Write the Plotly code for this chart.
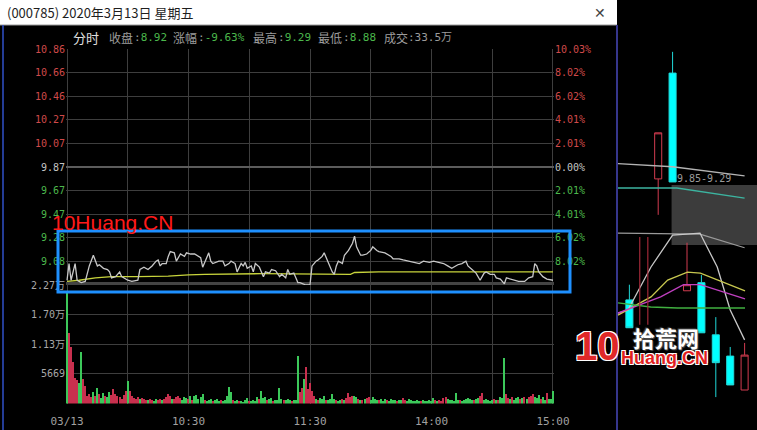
import plotly.graph_objects as go

W, H = 757, 430
def px(x): return x / W
def py(y): return 1 - y / H

# ---------------- data ----------------
prev_close = 9.87
pct_ticks = [10.03, 8.02, 6.02, 4.01, 2.01, 0.00, -2.01, -4.01, -6.02, -8.02]
price_labels = ["10.86", "10.66", "10.46", "10.27", "10.07", "9.87", "9.67", "9.47", "9.28", "9.08"]
pct_labels = ["10.03%", "8.02%", "6.02%", "4.01%", "2.01%", "0.00%", "2.01%", "4.01%", "6.02%", "8.02%"]
vol_tick_vals = [5669, 11338, 17007, 22676]
vol_tick_labels = ["5669", "1.13万", "1.70万", "2.27万"]
time_tick_vals = [0, 30, 60, 90, 120, 150, 180, 210, 240]
time_tick_labels = ["03/13", "", "10:30", "", "11:30", "", "14:00", "", "15:00"]

price_min = [0, 1, 2, 3, 4, 5, 7, 9, 11, 13, 14, 15, 16, 18, 20, 21, 22, 24, 26, 27, 30, 32, 35, 36, 38, 40,
             42, 44, 45, 46, 47, 49, 50, 51, 53, 54, 56, 58, 59, 61, 63, 64, 66, 67, 69, 70, 71, 72, 75, 77,
             78, 80, 81, 83, 84, 86, 87, 88, 89, 91, 92, 93, 95, 96, 97, 98, 100, 101, 103, 105, 106, 108,
             109, 110, 112, 113, 114, 115, 117, 118, 120, 121, 122, 123, 124, 126, 127, 128, 129, 131, 132,
             133, 134, 136, 137, 139, 141, 142, 143, 145, 146, 148, 150, 151, 153, 154, 157, 160, 161, 164,
             166, 169, 171, 174, 176, 179, 181, 184, 186, 188, 190, 193, 195, 197, 198, 200, 202, 204, 206,
             207, 209, 211, 212, 214, 216, 217, 219, 221, 223, 226, 228, 230, 231, 232, 233, 235, 237, 240]
price_val = [8.92, 9.06, 8.92, 8.98, 9.06, 8.92, 8.90, 8.91, 9.04, 9.13, 9.08, 9.04, 9.05, 9.02, 9.01, 8.99,
             8.94, 8.95, 8.99, 8.95, 8.92, 8.91, 8.92, 9.01, 9.03, 9.01, 9.04, 9.08, 9.09, 9.04, 9.06, 9.06,
             9.12, 9.16, 9.15, 9.08, 9.14, 9.12, 9.15, 9.14, 9.14, 9.13, 9.11, 9.03, 9.11, 9.15, 9.08, 9.06,
             9.08, 9.08, 9.04, 9.06, 9.08, 9.06, 8.99, 9.06, 9.04, 9.07, 9.02, 9.04, 8.99, 9.06, 9.03, 8.99,
             8.95, 8.99, 8.98, 9.01, 9.00, 8.95, 8.97, 8.94, 9.01, 8.97, 8.98, 8.94, 8.90, 8.90, 8.89, 8.88,
             8.88, 9.04, 9.06, 9.08, 9.09, 9.12, 9.15, 9.11, 9.06, 8.99, 8.97, 9.04, 9.08, 9.06, 9.13, 9.17,
             9.23, 9.29, 9.20, 9.13, 9.13, 9.14, 9.17, 9.20, 9.17, 9.16, 9.15, 9.12, 9.10, 9.10, 9.09, 9.08,
             9.07, 9.06, 9.08, 9.07, 9.08, 9.07, 9.06, 9.04, 9.02, 9.05, 9.06, 9.08, 9.04, 9.01, 8.98, 8.92,
             8.98, 8.99, 8.97, 8.97, 8.94, 8.93, 8.89, 8.94, 8.93, 8.92, 8.91, 8.91, 8.94, 8.95, 9.06, 9.04,
             8.99, 8.95, 8.93, 8.92]

avg_min = [0, 6, 14, 22, 35, 50, 60, 68, 96, 120, 140, 142, 154, 240]
avg_val = [8.91, 8.92, 8.94, 8.95, 8.95, 8.955, 8.965, 8.97, 8.975, 8.97, 8.97, 8.985, 8.99, 8.99]

vols = [21500, 13400, 10900, 8000, 4900, 4500, 3900, 9900, 4700, 3300,
        1500, 1900, 1200, 2200, 1400, 3000, 1800, 1100, 2100, 1500,
        1300, 2200, 1600, 2700, 1800, 1400, 1200, 900, 1700, 2400,
        4300, 2400, 1500, 1100, 900, 1200, 800, 1000, 900, 700,
        600, 800, 700, 500, 900, 700, 800, 600, 900, 1200,
        1800, 1400, 900, 800, 1300, 1500, 1100, 700, 1200, 1100,
        900, 1500, 700, 1400, 1700, 900, 1200, 1800, 600, 500,
        700, 900, 500, 600, 800, 500, 700, 400, 600, 1500,
        3100, 2200, 700, 500, 600, 400, 500, 300, 600, 1100,
        500, 400, 700, 500, 1200, 800, 2400, 1100, 1200, 600,
        900, 1000, 500, 700, 600, 3000, 800, 600, 700, 900,
        600, 500, 700, 600, 9000, 2200, 3000, 4600, 7000, 2700,
        4000, 2400, 1500, 800, 600, 1100, 900, 1500, 700, 600,
        800, 1800, 900, 600, 500, 700, 900, 600, 1100, 2000,
        1300, 1500, 1400, 1300, 900, 700, 600, 800, 1100, 1200,
        700, 1300, 800, 600, 700, 800, 500, 900, 600, 500,
        800, 600, 700, 500, 700, 600, 1100, 700, 500, 900,
        600, 400, 500, 700, 500, 400, 600, 500, 400, 600,
        500, 1100, 600, 500, 700, 500, 1000, 1200, 800, 600,
        700, 500, 2000, 700, 600, 500, 700, 800, 1000, 900,
        700, 600, 800, 1000, 1400, 2000, 600, 800, 700, 500,
        600, 800, 700, 600, 1200, 1000, 8700, 1800, 1100, 900,
        1200, 700, 1000, 1300, 800, 1000, 1200, 900, 1300, 1500,
        1900, 1300, 1100, 1700, 900, 1200, 700, 2000, 800, 900,
        2400]
vol_dir = ("grrrrrggrr" "rrrgrgrggr" "ggrrrrrrrr" "grrrrrgrrr" "grrggrrgrr" "rrgrrrrggg"
           "rgrgggggrg" "ggrgggrggg" "ggrggrgggg" "rggggrgggr" "ggrggggrgg" "grgggrrgrr"
           "rrrgrgggrg" "gggrggrgrr" "rrggrgrgrr" "ggggrgggrg" "gggrggrrgg" "gggggrgggg"
           "ggrgrrrrgg" "ggggrggggg" "grggrrgggg" "grgrgggrrg" "rgggrgrgrr" "rgggrggrgg" "g")

# right-hand daily K panel
k_slot = [0, 2, 3, 4, 5, 6, 7, 8]
k_open = [8.07, 10.46, 12.55, 8.25, 8.41, 7.38, 6.96, 6.29]
k_high = [8.37, 11.37, 12.97, 9.20, 8.56, 7.73, 7.14, 7.22]
k_low = [7.52, 9.75, 10.40, 8.25, 7.42, 6.15, 6.39, 6.29]
k_close = [7.52, 11.37, 10.40, 8.37, 7.42, 6.83, 6.39, 6.98]
ma_top_x, ma_top = [-0.79, 3.0, 8.0], [10.76, 10.70, 10.52]
ma_teal_x, ma_teal = [-0.79, 3.3, 8.0], [10.28, 10.28, 10.08]
ma_gray_x, ma_gray = [-0.79, 3.0, 4.9, 8.0], [9.39, 9.37, 9.37, 9.10]
ma_light_x, ma_light = [-0.79, -0.1, 1.5, 3.0, 4.9, 6.1, 7.0, 8.0], [7.81, 7.87, 8.72, 9.35, 9.39, 8.72, 7.87, 7.28]
ma_yel_x, ma_yel = [-0.79, 1.5, 2.66, 4.03, 4.93, 8.03], [7.77, 8.13, 8.46, 8.62, 8.60, 8.25]
ma_mag_x, ma_mag = [-0.79, 2.17, 3.76, 4.93, 8.03], [7.81, 8.13, 8.37, 8.37, 8.09]
ma_grn_x, ma_grn = [-0.79, 1.48, 3.34, 8.03], [8.01, 7.93, 7.91, 7.91]
thin_x = [0.72, 0.72, None, 1.28, 1.28]
thin_y = [9.31, 7.58, None, 9.31, 7.58]
range_label = "9.85-9.29"

# ---------------- styling ----------------
RED, GRAY, GREEN = "#d04a4a", "#c4c4c4", "#4cb84c"
GRID = "#3e3e3e"
MONO = "DejaVu Sans Mono, Noto Sans CJK SC"
CJK = "Noto Sans CJK SC"

def pcolor(p):
    return RED if p > 0 else (GRAY if p == 0 else GREEN)

price_tickvals = [prev_close * (1 + p / 100) for p in pct_ticks]
price_ticktext = [f"<span style='color:{pcolor(p)}'>{t}</span>" for p, t in zip(pct_ticks, price_labels)]
pct_ticktext = [f"<span style='color:{pcolor(p)}'>{t}</span>" for p, t in zip(pct_ticks, pct_labels)]
bar_colors = ["#c8304e" if d == "r" else "#3cc85a" for d in vol_dir]

fig = go.Figure()
fig.add_trace(go.Bar(x=list(range(len(vols))), y=vols, marker=dict(color=bar_colors, line=dict(width=0)),
                     width=0.65, xaxis="x2", yaxis="y2"))
fig.add_trace(go.Scatter(x=avg_min, y=avg_val, mode="lines", line=dict(color="#c8d43c", width=1.3),
                         xaxis="x", yaxis="y"))
fig.add_trace(go.Scatter(x=price_min, y=price_val, mode="lines", line=dict(color="#c8c8c8", width=1.3),
                         xaxis="x", yaxis="y"))
fig.add_trace(go.Scatter(x=[0, 240], y=[pct_ticks[0], pct_ticks[-1]], mode="markers",
                         marker=dict(opacity=0), xaxis="x", yaxis="y3", hoverinfo="skip"))

# right panel
for xs, ys, col, w in [(ma_top_x, ma_top, "#b4b4b4", 1.3), (ma_teal_x, ma_teal, "#3cb4a0", 1.3),
                       (ma_gray_x, ma_gray, "#9a9a9a", 1.3), (ma_light_x, ma_light, "#c8c8c8", 1.3),
                       (ma_yel_x, ma_yel, "#c8c850", 1.3), (ma_mag_x, ma_mag, "#c040c0", 1.3),
                       (ma_grn_x, ma_grn, "#40b040", 1.3), (thin_x, thin_y, "#a02838", 1.2)]:
    fig.add_trace(go.Scatter(x=xs, y=ys, mode="lines", line=dict(color=col, width=w), xaxis="x4", yaxis="y4"))
fig.add_trace(go.Candlestick(x=k_slot, open=k_open, high=k_high, low=k_low, close=k_close,
                             increasing=dict(line=dict(color="#d23c50", width=1), fillcolor="#000000"),
                             decreasing=dict(line=dict(color="#20d8d8", width=1), fillcolor="#00ffff"),
                             xaxis="x4", yaxis="y4"))

tickfont = dict(family=MONO, size=10, color="#a8a8a8")
xcommon = dict(domain=[px(66), px(554)], range=[-0.5, 240.5], tickvals=time_tick_vals, showgrid=True,
               gridcolor=GRID, gridwidth=1, zeroline=False, showline=False, fixedrange=True,
               automargin=False)

fig.update_layout(
    width=W, height=H, margin=dict(l=0, r=0, t=0, b=0, pad=0, autoexpand=False),
    paper_bgcolor="#000000", plot_bgcolor="#000000", showlegend=False, bargap=0,
    xaxis=dict(**xcommon, anchor="y", showticklabels=False),
    xaxis2=dict(**xcommon, anchor="y2", ticktext=time_tick_labels, ticks="outside", ticklen=7,
                tickcolor="rgba(0,0,0,0)", tickfont=dict(family=MONO, size=11, color="#a0a0a0")),
    yaxis=dict(domain=[py(285), py(49)], range=[prev_close * (1 - 0.1003), prev_close * (1 + 0.1003)],
               anchor="x", tickvals=price_tickvals, ticktext=price_ticktext, tickfont=tickfont,
               showgrid=True, gridcolor=GRID, zeroline=False, fixedrange=True, automargin=False),
    yaxis3=dict(overlaying="y", side="right", anchor="x", range=[-10.03, 10.03], tickvals=pct_ticks,
                ticktext=pct_ticktext, tickfont=tickfont, showgrid=False, zeroline=False, fixedrange=True,
                automargin=False),
    yaxis2=dict(domain=[py(403.5), py(285)], range=[0, 22676], anchor="x2", tickvals=vol_tick_vals,
                ticktext=vol_tick_labels, tickfont=tickfont, showgrid=True, gridcolor=GRID,
                zeroline=False, fixedrange=True, automargin=False),
    xaxis4=dict(domain=[px(618), 1], range=[-0.79, 8.86], anchor="y4", visible=False,
                rangeslider=dict(visible=False), fixedrange=True, automargin=False),
    yaxis4=dict(domain=[0, py(25)], range=[5.5, 13.5], anchor="x4", visible=False, fixedrange=True,
                automargin=False),
)

shapes = [
    # zero line and lower-limit line
    dict(type="line", xref="x", yref="y", x0=-0.5, x1=240.5, y0=prev_close, y1=prev_close,
         line=dict(color="#5c5c5c", width=2), layer="between"),
    dict(type="line", xref="x", yref="paper", x0=-0.5, x1=240.5, y0=py(283.5), y1=py(283.5),
         line=dict(color="#444444", width=3), layer="between"),
    # right panel grey range box
    dict(type="rect", xref="x4", yref="y4", x0=2.93, x1=8.86, y0=9.155, y1=10.34,
         fillcolor="#3c3c3c", line=dict(width=0), layer="below"),
    # title bar
    dict(type="rect", xref="paper", yref="paper", x0=0, x1=px(617), y0=py(25), y1=1,
         fillcolor="#ffffff", line=dict(width=0)),
    dict(type="line", xref="paper", yref="paper", x0=0, x1=px(617), y0=py(25), y1=py(25),
         line=dict(color="#9a9a9a", width=1)),
    # window edges
    dict(type="line", xref="paper", yref="paper", x0=px(3), x1=px(3), y0=0, y1=py(25),
         line=dict(color="#3050c8", width=1.5)),
    dict(type="line", xref="paper", yref="paper", x0=px(617), x1=px(617), y0=0, y1=py(25),
         line=dict(color="#36368c", width=2)),
    # blue highlight box
    dict(type="rect", xref="paper", yref="paper", x0=px(58), x1=px(570), y0=py(292), y1=py(231),
         line=dict(color="#1e90ff", width=3), fillcolor="rgba(0,0,0,0)"),
]
fig.update_layout(shapes=shapes)

def ann(text, x, y, size=12, color="#ffffff", family=CJK, xanchor="left", **kw):
    return dict(text=text, x=px(x), y=py(y), xref="paper", yref="paper", showarrow=False,
                xanchor=xanchor, yanchor="middle", font=dict(family=family, size=size, color=color, **kw))

LBL = "#9c9c9c"
annotations = [
    ann("(000785) 2020年3月13日 星期五", 5, 12.5, size=13, color="#1e1e1e"),
    ann("✕", 600, 12.5, size=14, color="#444444", family="DejaVu Sans", xanchor="center"),
    ann("分时", 71, 37, size=13, color="#e0e0e0"),
    ann("收盘", 107, 37, size=12, color=LBL),
    ann(f"<span style='color:{LBL}'>:</span>8.92", 132, 37, size=11, color=GREEN, family=MONO),
    ann("涨幅", 171, 37, size=12, color=LBL),
    ann(f"<span style='color:{LBL}'>:</span>-9.63%", 196, 37, size=11, color=GREEN, family=MONO),
    ann("最高", 251, 37, size=12, color=LBL),
    ann(f"<span style='color:{LBL}'>:</span>9.29", 276, 37, size=11, color=GREEN, family=MONO),
    ann("最低", 316, 37, size=12, color=LBL),
    ann(f"<span style='color:{LBL}'>:</span>8.88", 341, 37, size=11, color=GREEN, family=MONO),
    ann("成交", 382, 37, size=12, color=LBL),
    ann(":33.5万", 406, 37, size=11, color=LBL, family=MONO),
    ann("10Huang.CN", 50, 222, size=21, color="#ff1a1a", family="Liberation Sans"),
    ann(range_label, 704, 178, size=10, color="#9a9a9a", family=MONO, xanchor="center"),
    ann("<b>10</b>", 597, 346, size=40, color="#e02828", family="Liberation Sans", xanchor="center",
        shadow="1px 1px 0 #ffffff, -1px -1px 0 #ffffff, 1px -1px 0 #ffffff, -1px 1px 0 #ffffff"),
    ann("<b>拾荒网</b>", 666, 337, size=22, color="#ffffff", family=CJK, xanchor="center",
        shadow="1px 1px 1px #505050, -1px -1px 1px #505050"),
    ann("<b>Huang.CN</b>", 664, 358, size=18, color="#e01e1e", family="Liberation Sans", xanchor="center",
        shadow="1px 1px 0 #ffffff, -1px -1px 0 #ffffff, 1px -1px 0 #ffffff, -1px 1px 0 #ffffff"),
]
fig.update_layout(annotations=annotations)

fig.write_html("out.html", config={"displayModeBar": False},
               post_script="document.body.style.margin='0';document.body.style.overflow='hidden';")
